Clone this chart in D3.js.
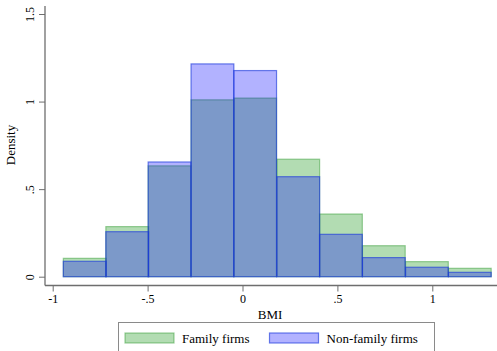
<!DOCTYPE html>
<html lang="en">
  <head>
    <meta charset="utf-8"/>
    <title>BMI density histogram</title>
    <script src="https://cdnjs.cloudflare.com/ajax/libs/d3/7.8.5/d3.min.js"></script>
    <style>
      body { margin: 0; background: #fff; }
      text { font-family: "Liberation Serif", "Times New Roman", serif; fill: #000; }
    </style>
  </head>
  <body>
    <div id="chart"></div>
    <script type="text/javascript">

      // bin left edges (BMI) and common bin width
      var binStarts = [-0.944, -0.720, -0.497, -0.271, -0.046, 0.181, 0.406, 0.632, 0.859, 1.085];
      var binWidth = 0.2253;

      // densities per bin
      var familyDensity    = [0.105, 0.286, 0.633, 1.010, 1.020, 0.671, 0.358, 0.177, 0.086, 0.048];
      var nonFamilyDensity = [0.088, 0.257, 0.655, 1.215, 1.177, 0.571, 0.242, 0.109, 0.054, 0.025];

      var xTicks = [-1, -0.5, 0, 0.5, 1];
      var xTickLabels = ["-1", "-.5", "0", ".5", "1"];
      var yTicks = [0, 0.5, 1, 1.5];
      var yTickLabels = ["0", ".5", "1", "1.5"];

      var seriesNames = ["Family firms", "Non-family firms"];

      var w = 497, h = 351;

      var svg = d3.select("#chart")
        .append("svg")
        .attr("width", w)
        .attr("height", h)
      ;

      // scales
      var x = d3.scaleLinear().domain([-1, 1]).range([52.7, 432.3]);
      var y = d3.scaleLinear().domain([0, 1.5]).range([276.7, 14]);

      var axisColour = "#6e6e6e";

      // bars: family (green) first, non-family (blue) over it
      var series = [
        { values: familyDensity, fill: "rgba(0,140,0,0.3)", stroke: "rgba(40,150,40,0.45)" },
        { values: nonFamilyDensity, fill: "rgba(0,0,255,0.3)", stroke: "rgba(30,60,220,0.65)" }
      ];

      series.forEach(function(s) {
        svg.append("g")
          .selectAll("rect")
          .data(s.values)
          .enter()
          .append("rect")
          .attr("x", function(d, i) { return x(binStarts[i]); })
          .attr("width", function(d, i) { return x(binStarts[i] + binWidth) - x(binStarts[i]); })
          .attr("y", function(d) { return y(d); })
          .attr("height", function(d) { return y(0) - y(d); })
          .attr("fill", s.fill)
          .attr("stroke", s.stroke)
          .attr("stroke-width", 1.2)
        ;
      });

      // y axis
      var yAxis = d3.axisLeft(y)
        .tickValues(yTicks)
        .tickSize(6)
        .tickPadding(4)
        .tickFormat(function(d, i) { return yTickLabels[i]; })
      ;
      var gy = svg.append("g")
        .attr("transform", "translate(45,0)")
        .call(yAxis)
      ;
      gy.select(".domain").remove();
      gy.append("line")
        .attr("x1", 0).attr("x2", 0)
        .attr("y1", 6).attr("y2", 285.5)
        .attr("stroke", axisColour)
        .attr("stroke-width", 1.3)
      ;
      gy.selectAll(".tick line").attr("stroke", axisColour);
      gy.selectAll(".tick text")
        .attr("font-size", 12)
        .attr("text-anchor", "middle")
        .attr("transform", function(d) { return "translate(-15," + y(d) + ") rotate(-90)"; })
        .attr("x", 0)
        .attr("dy", "0.35em")
      ;
      // undo tick group translation for rotated labels
      gy.selectAll(".tick").each(function(d) {
        d3.select(this).select("text")
          .attr("transform", "translate(-15,0) rotate(-90)");
      });

      svg.append("text")
        .attr("transform", "translate(15,145) rotate(-90)")
        .attr("text-anchor", "middle")
        .attr("font-size", 13)
        .text("Density")
      ;

      // x axis
      var xAxis = d3.axisBottom(x)
        .tickValues(xTicks)
        .tickSize(6)
        .tickPadding(3)
        .tickFormat(function(d, i) { return xTickLabels[i]; })
      ;
      var gx = svg.append("g")
        .attr("transform", "translate(0,285.5)")
        .call(xAxis)
      ;
      gx.select(".domain").remove();
      gx.append("line")
        .attr("x1", 45).attr("x2", w)
        .attr("y1", 0).attr("y2", 0)
        .attr("stroke", axisColour)
        .attr("stroke-width", 1.3)
      ;
      gx.selectAll(".tick line").attr("stroke", axisColour);
      gx.selectAll(".tick text").attr("font-size", 12);

      svg.append("text")
        .attr("x", 270)
        .attr("y", 319)
        .attr("text-anchor", "middle")
        .attr("font-size", 13)
        .text("BMI")
      ;

      // legend
      var legend = svg.append("g");
      legend.append("rect")
        .attr("x", 118.5).attr("y", 322.5)
        .attr("width", 316).attr("height", 40)
        .attr("fill", "#fff")
        .attr("stroke", "#8a8a8a")
        .attr("stroke-width", 1)
      ;
      var legendX = [125, 269.5];
      series.forEach(function(s, i) {
        legend.append("rect")
          .attr("x", legendX[i]).attr("y", 333)
          .attr("width", 49).attr("height", 10)
          .attr("fill", s.fill)
          .attr("stroke", s.stroke)
          .attr("stroke-width", 1.2)
        ;
        legend.append("text")
          .attr("x", legendX[i] + 57)
          .attr("y", 342.5)
          .attr("font-size", 13)
          .text(seriesNames[i])
        ;
      });
    </script>
  </body>
</html>
